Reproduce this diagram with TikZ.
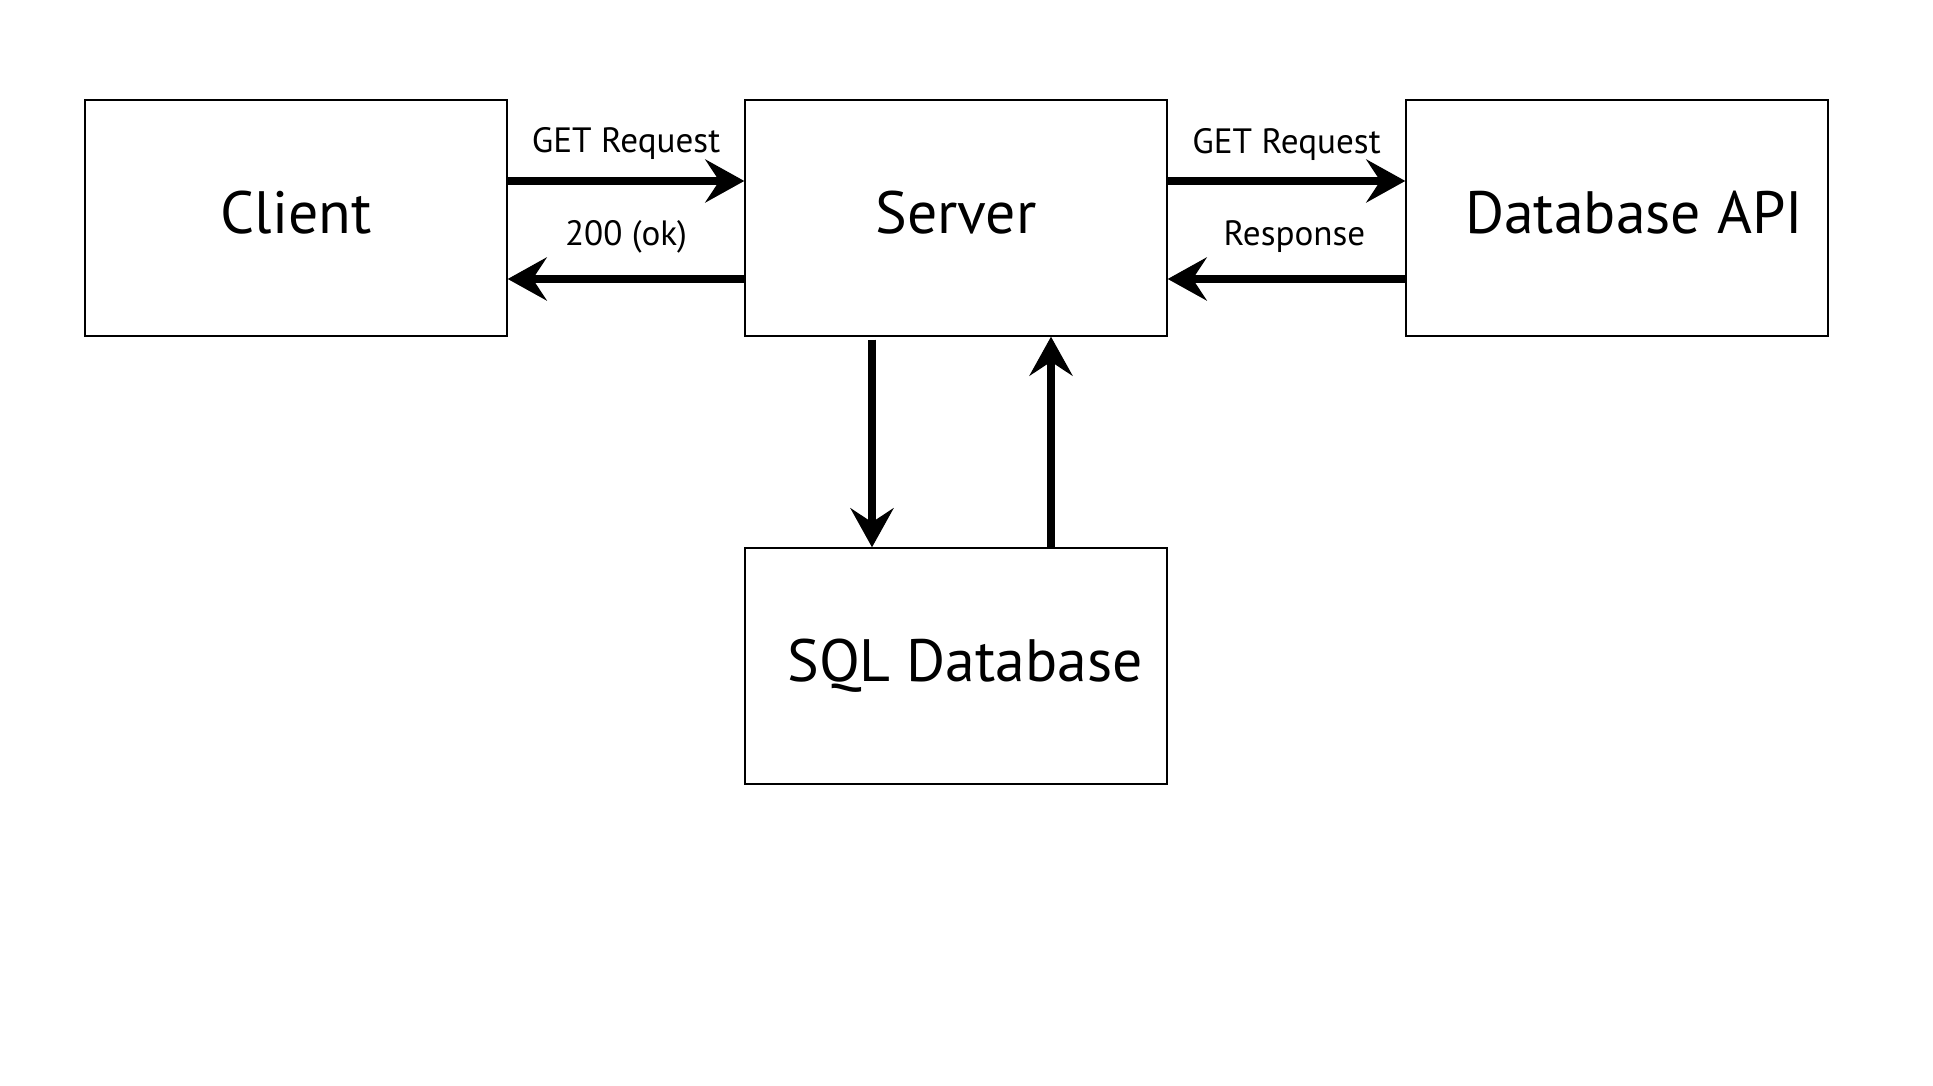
\documentclass[tikz,border=0pt]{standalone}
\usepackage{fontspec}
\setmainfont{PT Sans}
\usetikzlibrary{arrows.meta}
\begin{document}
\begin{tikzpicture}[
    box/.style={draw, line width=0.4pt, minimum width=4.22cm, minimum height=2.36cm,
                inner sep=0pt, text depth=0.12cm, font=\fontsize{17}{20}\selectfont},
    flow/.style={-{Stealth[length=3.9mm, width=4.3mm, inset=1.4mm]}, line width=2.1pt},
    tag/.style={font=\fontsize{10}{12}\selectfont, inner sep=0pt}
  ]
    \useasboundingbox (0,0) rectangle (19.33,10.86);
    \node[box] (client) at (2.96,8.68) {Client};
    \node[box] (server) at (9.56,8.68) {Server};
    \node[box] (api) at (16.17,8.68) {\hspace*{0.34cm}Database API};
    \node[box] (sql) at (9.56,4.20) {\hspace*{0.18cm}SQL Database};
    \draw[flow] ([yshift=0.37cm]client.east) -- node[tag, yshift=0.37cm] {GET Request} ([yshift=0.37cm]server.west);
    \draw[flow] ([yshift=-0.61cm]server.west) -- node[tag, yshift=0.42cm] {200 (ok)} ([yshift=-0.61cm]client.east);
    \draw[flow] ([yshift=0.37cm]server.east) -- node[tag, yshift=0.36cm] {GET Request} ([yshift=0.37cm]api.west);
    \draw[flow] ([yshift=-0.61cm]api.west) -- node[tag, yshift=0.42cm, xshift=0.08cm] {Response} ([yshift=-0.61cm]server.east);
    \draw[flow] ([xshift=-0.84cm, yshift=-0.03cm]server.south) -- ([xshift=-0.84cm]sql.north);
    \draw[flow] ([xshift=0.95cm]sql.north) -- ([xshift=0.95cm]server.south);
  \end{tikzpicture}
\end{document}
